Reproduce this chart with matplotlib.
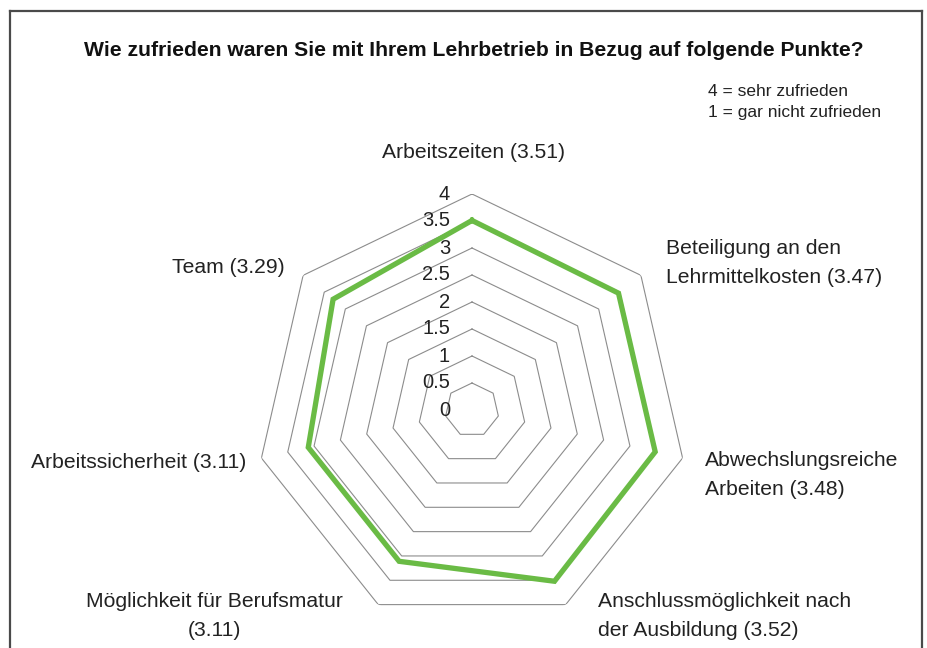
import numpy as np
import matplotlib.pyplot as plt
from matplotlib.lines import Line2D

plt.rcParams['font.family'] = ['Liberation Sans', 'DejaVu Sans']

# Daten
kategorien = ["Arbeitszeiten (3.51)",
              "Beteiligung an den\nLehrmittelkosten (3.47)",
              "Abwechslungsreiche\nArbeiten (3.48)",
              "Anschlussmöglichkeit nach\nder Ausbildung (3.52)",
              "Möglichkeit für Berufsmatur\n(3.11)",
              "Arbeitssicherheit (3.11)",
              "Team (3.29)"]
werte = [3.51, 3.47, 3.48, 3.52, 3.11, 3.11, 3.29]
ringe = [0.5, 1, 1.5, 2, 2.5, 3, 3.5, 4]
tick_labels = ["0", "0.5", "1", "1.5", "2", "2.5", "3", "3.5", "4"]

W, H = 928, 648
fig = plt.figure(figsize=(W / 100, H / 100), dpi=100)

# Rahmen um die Grafik
rahmen = dict(color="#4a4a4a", lw=1.6, transform=fig.transFigure)
fig.add_artist(Line2D([10.5 / W, 10.5 / W], [-0.1, 1 - 11 / H], **rahmen))
fig.add_artist(Line2D([10.5 / W, 922.5 / W], [1 - 11 / H, 1 - 11 / H], **rahmen))
fig.add_artist(Line2D([922.5 / W, 922.5 / W], [-0.1, 1 - 11 / H], **rahmen))

# Polarachse: Mitte bei (472, 410), Radius 216 px fuer Wert 4
cx, cy, R = 472, 410, 216
ax = fig.add_axes([(cx - R) / W, (H - cy - R) / H, 2 * R / W, 2 * R / H],
                  projection="polar")
ax.set_theta_offset(np.pi / 2)
ax.set_theta_direction(-1)
ax.set_ylim(0, 4)
ax.grid(False)
ax.spines["polar"].set_visible(False)
ax.set_xticks([])
ax.set_yticks([])
ax.patch.set_alpha(0)

n = len(werte)
winkel = np.arange(n) * 2 * np.pi / n
winkel_zu = np.append(winkel, winkel[0])

# Gitterlinien (Siebenecke)
for r in ringe:
    ax.plot(winkel_zu, [r] * (n + 1), color="#8c8c8c", lw=0.8, zorder=1)

# Datenlinie
ax.plot(winkel_zu, werte + [werte[0]], color="#6abb45", lw=3.8,
        solid_joinstyle="miter", zorder=3)

# Achsenbeschriftung
for i, lab in enumerate(tick_labels):
    ax.annotate(lab, xy=(0, i * 0.5), xytext=(-22, 0), textcoords="offset pixels",
                ha="right", va="center", fontsize=14.5, color="#222222", zorder=4)

# Kategorien
offsets = [(2, 41, "center"), (25, 12, "left"), (22, -17, "left"),
           (32, -11, "left"), (-35, -11, "right"), (-15, -4, "right"),
           (-18, 8, "right")]
for w, lab, (dx, dy, ha) in zip(winkel, kategorien, offsets):
    ax.annotate(lab, xy=(w, 4), xytext=(dx, dy), textcoords="offset pixels",
                ha=ha, va="center", fontsize=15.2, color="#222222",
                multialignment="center" if "Berufsmatur" in lab else "left",
                linespacing=1.68, annotation_clip=False)

fig.text(474 / W, 1 - 50 / H,
         "Wie zufrieden waren Sie mit Ihrem Lehrbetrieb in Bezug auf folgende Punkte?",
         ha="center", va="center", fontsize=15.2, fontweight="bold", color="#111111")
fig.text(708 / W, 1 - 91 / H, "4 = sehr zufrieden", ha="left", va="center",
         fontsize=12.5, color="#222222")
fig.text(708 / W, 1 - 112 / H, "1 = gar nicht zufrieden", ha="left", va="center",
         fontsize=12.5, color="#222222")

fig.savefig("out.png", dpi=100)
